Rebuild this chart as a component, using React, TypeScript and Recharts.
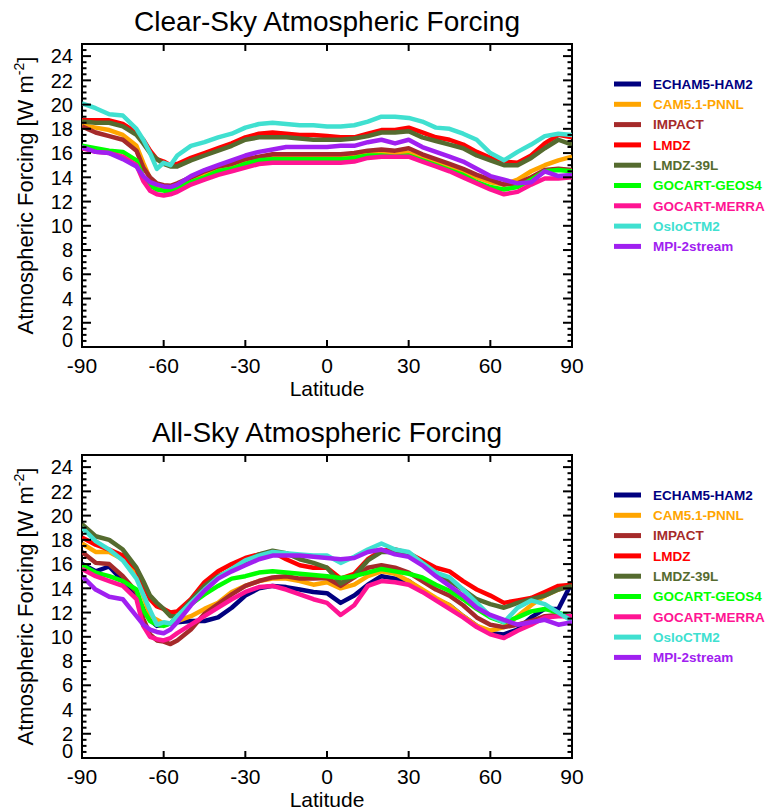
import React from "react";
import { LineChart, Line, XAxis, YAxis, ReferenceArea } from "recharts";

// Latitude grid (degrees)
const LAT = [-90, -85, -80, -75, -70, -67.5, -65, -62.5, -60, -57.5, -55, -50, -45, -40, -35, -30, -25, -20, -15, -10, -5, 0, 5, 10, 15, 20, 25, 30, 35, 40, 45, 50, 55, 60, 65, 70, 75, 80, 85, 90];

const NAMES = ["ECHAM5-HAM2", "CAM5.1-PNNL", "IMPACT", "LMDZ", "LMDZ-39L", "GOCART-GEOS4", "GOCART-MERRA", "OsloCTM2", "MPI-2stream"];
const COLORS = ["#00007f", "#ffa500", "#a52a2a", "#ff0000", "#556b2f", "#00ff00", "#ff1493", "#40e0d0", "#a020f0"];

const X_TICKS = [-90, -60, -30, 0, 30, 60, 90];
const Y_LABELS = [0, 2, 4, 6, 8, 10, 12, 14, 16, 18, 20, 22, 24];
const Y_TICKS = Array.from({ length: 50 }, (_, i) => i * 0.5);

// Clear-sky atmospheric forcing [W m-2]
const CAM_CS = [18.3, 18.1, 17.9, 17.5, 16.6, 15.2, 13.9, 13.3, 13.0, 12.9, 13.2, 13.8, 14.3, 14.7, 15.0, 15.4, 15.6, 15.7, 15.7, 15.7, 15.7, 15.7, 15.7, 15.7, 16.0, 16.0, 16.0, 16.0, 15.7, 15.3, 14.9, 14.5, 14.0, 13.6, 13.4, 13.8, 14.5, 15.0, 15.4, 15.7];
const IMPACT_CS = [18.2, 17.7, 17.4, 17.1, 16.2, 14.8, 14.0, 13.5, 13.35, 13.3, 13.5, 14.0, 14.5, 14.9, 15.1, 15.5, 15.7, 15.9, 15.9, 15.9, 15.9, 15.9, 15.9, 16.0, 16.2, 16.3, 16.2, 16.4, 15.9, 15.5, 15.1, 14.7, 14.2, 13.8, 13.4, 13.5, 14.0, 14.6, 14.7, 14.6];
const LMDZ_CS = [18.7, 18.7, 18.7, 18.4, 17.7, 17.1, 16.2, 15.5, 15.3, 15.0, 15.1, 15.6, 16.0, 16.4, 16.8, 17.3, 17.6, 17.7, 17.6, 17.5, 17.5, 17.4, 17.3, 17.3, 17.6, 17.9, 17.9, 18.1, 17.7, 17.3, 17.1, 16.7, 16.1, 15.6, 15.3, 15.2, 15.8, 16.8, 17.5, 17.3];
const L39_CS = [18.6, 18.5, 18.5, 18.2, 17.5, 16.8, 16.0, 15.5, 15.1, 14.9, 14.9, 15.4, 15.8, 16.2, 16.6, 17.1, 17.3, 17.3, 17.3, 17.2, 17.1, 17.1, 17.1, 17.2, 17.4, 17.7, 17.7, 17.8, 17.3, 17.0, 16.7, 16.4, 15.8, 15.4, 15.0, 15.0, 15.6, 16.4, 17.1, 16.7];
const GEOS_CS = [16.6, 16.4, 16.2, 16.1, 15.4, 14.0, 13.3, 13.0, 12.9, 12.9, 13.1, 13.6, 14.0, 14.5, 14.7, 15.1, 15.4, 15.5, 15.5, 15.5, 15.5, 15.5, 15.5, 15.6, 15.8, 15.8, 15.7, 15.8, 15.4, 15.0, 14.6, 14.2, 13.6, 13.2, 13.0, 13.2, 13.8, 14.5, 14.6, 14.5];
const MERRA_CS = [16.4, 16.1, 16.0, 15.7, 15.0, 13.7, 12.9, 12.6, 12.5, 12.6, 12.8, 13.4, 13.8, 14.2, 14.5, 14.8, 15.1, 15.2, 15.2, 15.2, 15.2, 15.2, 15.2, 15.3, 15.6, 15.7, 15.7, 15.7, 15.3, 14.9, 14.5, 14.0, 13.5, 13.0, 12.6, 12.8, 13.4, 13.9, 13.9, 14.0];
const OSLO_CS = [20.1, 19.7, 19.2, 19.1, 18.0, 17.1, 16.0, 14.7, 15.2, 15.0, 15.8, 16.6, 16.9, 17.3, 17.6, 18.1, 18.4, 18.5, 18.4, 18.3, 18.3, 18.2, 18.2, 18.3, 18.6, 19.0, 19.0, 18.9, 18.6, 18.1, 18.0, 17.6, 17.1, 16.0, 15.4, 16.1, 16.7, 17.4, 17.6, 17.5];
const MPI_CS = [16.5, 16.1, 16.0, 15.5, 14.9, 14.1, 13.6, 13.4, 13.25, 13.2, 13.4, 14.1, 14.6, 15.0, 15.4, 15.8, 16.1, 16.3, 16.5, 16.5, 16.5, 16.5, 16.6, 16.6, 16.9, 17.1, 16.8, 17.1, 16.5, 16.1, 15.7, 15.3, 14.7, 14.1, 13.8, 13.5, 13.6, 14.5, 14.1, 14.2];

// All-sky atmospheric forcing [W m-2]
const ECHAM_AS = [16.0, 15.4, 15.8, 14.6, 13.5, 12.3, 11.4, 10.9, 11.0, 11.1, 11.2, 11.3, 11.3, 11.6, 12.4, 13.4, 14.0, 14.2, 14.1, 13.9, 13.7, 13.6, 12.8, 13.4, 14.3, 15.0, 14.8, 14.6, 13.8, 13.1, 12.6, 11.7, 10.9, 10.3, 10.2, 10.6, 11.6, 12.3, 12.3, 14.5];
const CAM_AS = [17.7, 17.0, 17.0, 16.4, 15.2, 13.4, 11.7, 11.4, 11.1, 11.1, 11.3, 11.7, 12.3, 12.8, 13.7, 14.2, 14.6, 14.8, 14.8, 14.6, 14.3, 14.5, 14.0, 14.3, 15.0, 15.4, 15.2, 14.6, 13.9, 13.2, 12.6, 11.7, 10.9, 10.5, 10.8, 11.7, 12.6, 13.4, 13.9, 14.3];
const IMPACT_AS = [17.0, 16.1, 16.0, 15.0, 13.7, 11.5, 10.2, 9.7, 9.6, 9.4, 9.7, 10.6, 11.9, 12.7, 13.5, 14.2, 14.6, 14.9, 15.0, 14.8, 14.8, 14.85, 14.2, 14.9, 15.7, 15.9, 15.7, 15.3, 14.6, 13.9, 13.4, 12.6, 11.6, 11.0, 10.8, 11.0, 11.3, 11.7, 11.8, 11.6];
const LMDZ_AS = [18.2, 17.6, 17.2, 16.7, 15.6, 14.3, 13.1, 12.5, 12.3, 12.0, 12.1, 13.1, 14.5, 15.4, 16.0, 16.5, 16.8, 17.0, 16.4, 15.9, 15.7, 15.7, 14.8, 15.2, 16.4, 17.1, 17.2, 16.9, 16.3, 15.7, 15.4, 14.6, 13.9, 13.4, 12.8, 13.0, 13.2, 13.7, 14.2, 14.3];
const L39_AS = [19.3, 18.3, 18.0, 17.2, 15.7, 14.6, 13.4, 12.8, 12.3, 11.7, 11.7, 13.0, 14.2, 15.0, 15.5, 16.1, 16.8, 17.1, 16.9, 16.4, 16.1, 15.7, 14.4, 15.0, 16.3, 17.0, 17.0, 16.8, 16.1, 15.3, 14.6, 13.9, 13.1, 12.7, 12.4, 12.8, 13.1, 13.4, 13.9, 14.2];
const GEOS_AS = [15.9, 15.3, 15.0, 14.6, 13.9, 12.2, 11.3, 11.0, 10.9, 11.1, 11.7, 12.7, 13.5, 14.2, 14.8, 15.0, 15.3, 15.4, 15.3, 15.2, 15.1, 15.0, 14.85, 15.0, 15.3, 15.6, 15.4, 15.2, 14.9, 14.3, 13.8, 13.1, 12.3, 11.6, 11.2, 11.6, 12.1, 12.3, 12.0, 11.6];
const MERRA_AS = [15.6, 15.0, 14.6, 14.2, 13.1, 10.9, 10.0, 9.8, 9.7, 9.9, 10.3, 11.0, 11.7, 12.4, 13.1, 13.7, 14.1, 14.2, 13.9, 13.5, 13.1, 12.8, 11.8, 12.6, 14.2, 14.6, 14.5, 14.3, 13.7, 13.0, 12.3, 11.6, 10.8, 10.2, 9.9, 10.5, 11.0, 11.6, 11.7, 11.7];
const OSLO_AS = [19.0, 17.9, 17.2, 16.3, 14.8, 13.5, 12.2, 11.0, 11.2, 11.1, 11.7, 12.8, 13.9, 14.9, 15.6, 16.3, 16.7, 17.0, 16.9, 16.8, 16.7, 16.7, 16.1, 16.6, 17.2, 17.7, 17.2, 17.0, 16.1, 15.3, 14.9, 13.9, 12.8, 11.7, 11.2, 12.4, 13.0, 12.7, 12.0, 11.3];
const MPI_AS = [15.0, 13.9, 13.3, 13.1, 11.7, 11.0, 10.6, 10.4, 10.3, 10.6, 11.2, 12.6, 13.8, 14.8, 15.4, 15.9, 16.4, 16.7, 16.7, 16.7, 16.6, 16.5, 16.4, 16.5, 17.0, 17.2, 16.8, 16.6, 15.9, 15.0, 14.2, 13.4, 12.4, 11.8, 11.4, 11.0, 11.2, 11.4, 11.0, 11.2];

const CLEAR_SKY = [null, CAM_CS, IMPACT_CS, LMDZ_CS, L39_CS, GEOS_CS, MERRA_CS, OSLO_CS, MPI_CS];
const ALL_SKY = [ECHAM_AS, CAM_AS, IMPACT_AS, LMDZ_AS, L39_AS, GEOS_AS, MERRA_AS, OSLO_AS, MPI_AS];

// layout
const W = 767;
const H = 411;
const PL = 82;
const PR = 572;
const PT = 44;
const PB = 347;
const AX = 2; // axis thickness reserved for Recharts axes
const FONT = "'Liberation Sans', Arial, Helvetica, sans-serif";

function build(series: (number[] | null)[]) {
  return LAT.map((lat, i) => {
    const row: Record<string, number> = { lat };
    series.forEach((s, j) => {
      if (s) row["s" + j] = s[i];
    });
    return row;
  });
}

const XTick = (props: any) => {
  const { x, payload } = props;
  const v = payload.value;
  const edge = v === -90 || v === 90;
  return (
    <g>
      {!edge && <line x1={x} x2={x} y1={PB} y2={PB - 7} stroke="#000" strokeWidth={2} />}
      {!edge && <line x1={x} x2={x} y1={PT} y2={PT + 7} stroke="#000" strokeWidth={2} />}
      <text x={x} y={PB + 26} textAnchor="middle" fontSize={21} fill="#000" fontFamily={FONT}>
        {v}
      </text>
    </g>
  );
};

const YTick = (props: any) => {
  const { y, payload } = props;
  const v = payload.value;
  const major = v % 2 === 0;
  const len = major ? 9 : 4.5;
  const showLabel = Y_LABELS.includes(v);
  return (
    <g>
      <line x1={PL} x2={PL + len} y1={y} y2={y} stroke="#000" strokeWidth={2} />
      <line x1={PR} x2={PR - len} y1={y} y2={y} stroke="#000" strokeWidth={2} />
      {showLabel && (
        <text x={PL - 9} y={v === 0 ? y - 7 : y} dy="0.36em" textAnchor="end" fontSize={20} fill="#000" fontFamily={FONT}>
          {v}
        </text>
      )}
    </g>
  );
};

function Panel({ top, title, series }: { top: number; title: string; series: (number[] | null)[] }) {
  const data = build(series);
  return (
    <div style={{ position: "absolute", left: 0, top, width: W, height: H }}>
      <LineChart
        width={W}
        height={H}
        data={data}
        margin={{ top: PT, right: W - PR, bottom: H - PB - AX, left: PL - AX }}
      >
        <XAxis
          dataKey="lat"
          type="number"
          domain={[-90, 90]}
          ticks={X_TICKS}
          interval={0}
          height={AX}
          tickSize={0}
          tickMargin={0}
          axisLine={false}
          tickLine={false}
          tick={XTick}
          allowDataOverflow
        />
        <YAxis
          type="number"
          domain={[0, 25]}
          ticks={Y_TICKS}
          interval={0}
          width={AX}
          tickSize={0}
          tickMargin={0}
          axisLine={false}
          tickLine={false}
          tick={YTick}
          allowDataOverflow
        />
        <ReferenceArea x1={-90} x2={90} y1={0} y2={25} fill="none" fillOpacity={0} stroke="#000" strokeWidth={2} ifOverflow="visible" />
        {series.map((s, j) =>
          s ? (
            <Line
              key={j}
              type="linear"
              dataKey={"s" + j}
              stroke={COLORS[j]}
              strokeWidth={4.5}
              strokeLinejoin="round"
              dot={false}
              activeDot={false}
              isAnimationActive={false}
            />
          ) : null
        )}
      </LineChart>
      <svg width={W} height={H} style={{ position: "absolute", left: 0, top: 0, pointerEvents: "none", overflow: "visible" }}>
        <text x={(PL + PR) / 2} y={31} textAnchor="middle" fontSize={28} fill="#000" fontFamily={FONT}>
          {title}
        </text>
        <text x={(PL + PR) / 2} y={396} textAnchor="middle" fontSize={21} fill="#000" fontFamily={FONT}>
          Latitude
        </text>
        <text
          transform={`translate(33, ${(PT + PB) / 2}) rotate(-90)`}
          textAnchor="middle"
          fontSize={22}
          fill="#000"
          fontFamily={FONT}
        >
          Atmospheric Forcing [W m
          <tspan fontSize={14} dy={-9}>-2</tspan>
          <tspan dy={9}>]</tspan>
        </text>
        {NAMES.map((n, i) => (
          <g key={n}>
            <line x1={614} x2={641} y1={84 + i * 20.3} y2={84 + i * 20.3} stroke={COLORS[i]} strokeWidth={5} />
            <text x={653} y={84 + i * 20.3} dy="0.36em" fontSize={13.5} fontWeight="bold" fill={COLORS[i]} fontFamily={FONT}>
              {n}
            </text>
          </g>
        ))}
      </svg>
    </div>
  );
}

export default function App() {
  return (
    <div style={{ position: "absolute", left: 0, top: 0, width: 767, height: 811, background: "#fff", fontFamily: FONT, overflow: "hidden" }}>
      <Panel top={0} title="Clear-Sky Atmospheric Forcing" series={CLEAR_SKY} />
      <Panel top={411} title="All-Sky Atmospheric Forcing" series={ALL_SKY} />
    </div>
  );
}
